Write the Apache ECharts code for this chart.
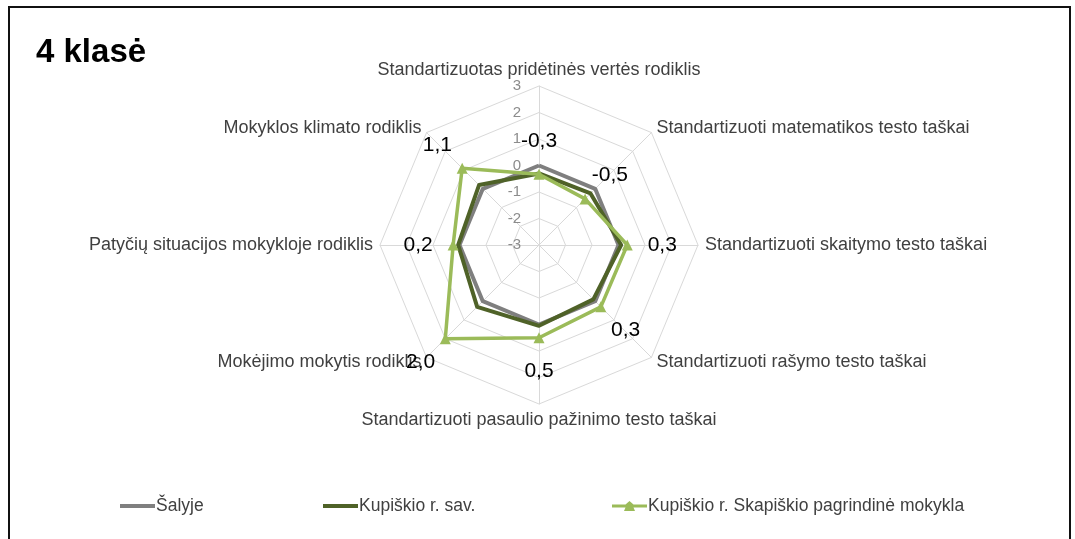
<!DOCTYPE html>
<html>
<head>
<meta charset="utf-8">
<script src="https://cdn.jsdelivr.net/npm/echarts@6/dist/echarts.min.js"></script>
<style>
  html, body { margin: 0; padding: 0; background: #fff; }
  #chart { position: absolute; left: 0; top: 0; width: 1075px; height: 539px; }
  #frame { position: absolute; left: 8px; top: 6px; width: 1059px; height: 560px;
           border: 2px solid #111; pointer-events: none; }
</style>
</head>
<body>
<div id="chart"></div>
<div id="frame"></div>
<script>
// rodikliai (ECharts radaras eina prieš laikrodžio rodyklę nuo viršaus)
var indicators = [
  "Standartizuotas pridėtinės vertės rodiklis",
  "Mokyklos klimato rodiklis",
  "Patyčių situacijos mokykloje rodiklis",
  "Mokėjimo mokytis rodiklis",
  "Standartizuoti pasaulio pažinimo testo taškai",
  "Standartizuoti rašymo testo taškai",
  "Standartizuoti skaitymo testo taškai",
  "Standartizuoti matematikos testo taškai"
];
var seriesNames = ["Šalyje", "Kupiškio r. sav.", "Kupiškio r. Skapiškio pagrindinė mokykla"];
var salyje = [0, 0, 0, 0, 0, 0, 0, 0];
var savivaldybe = [-0.3, 0.2, 0.05, 0.3, 0.05, -0.1, 0.1, -0.25];
var mokykla = [-0.33, 1.1, 0.24, 2.0, 0.5, 0.3, 0.33, -0.54];
var axisMin = -3, axisMax = 3;

var CX = 539, CY = 245;
var FONT = "'Liberation Sans', Arial, sans-serif";

var chart = echarts.init(document.getElementById("chart"));

var indicatorList = indicators.map(function (name, i) {
  var item = { name: name, min: axisMin, max: axisMax };
  // skaičiai tik ant viršutinės ašies
  item.axisLabel = { show: i === 0 };
  return item;
});

function fmt(v) {
  return v.toFixed(1).replace(".", ",");
}

var option = {
  backgroundColor: "#fff",
  animation: false,
  title: {
    text: "4 klasė",
    left: 31,
    top: 31,
    textStyle: { fontFamily: FONT, fontSize: 33, fontWeight: "bold", color: "#000" }
  },
  legend: [
    { data: [seriesNames[0]], left: 115, top: 492 },
    { data: [seriesNames[1]], left: 318, top: 492 },
    { data: [seriesNames[2]], left: 607, top: 492 }
  ].map(function (l, i) {
    l.itemWidth = 35;
    l.itemHeight = 10;
    l.itemGap = 1;
    l.textStyle = { fontFamily: FONT, fontSize: 17.5, color: "#404040", padding: [0, 0, 0, -4] };
    l.icon = i === 2
      ? "path://M0,3.5H13.5L17.5,0L21.5,3.5H35V6.5H21.5L23,10H12L13.5,6.5H0Z"
      : "path://M0,3H35V7H0Z";
    return l;
  }),
  radar: {
    center: [CX, CY],
    radius: 159,
    startAngle: 90,
    splitNumber: 6,
    shape: "polygon",
    indicator: indicatorList,
    axisName: {
      color: "#404040",
      fontFamily: FONT,
      fontSize: 18
    },
    nameGap: 7,
    splitLine: { lineStyle: { color: "#d9d9d9", width: 1 } },
    splitArea: { show: false },
    axisLine: { lineStyle: { color: "#d9d9d9", width: 1 } },
    axisTick: { show: false },
    axisLabel: {
      show: true,
      color: "#8c8c8c",
      fontFamily: FONT,
      fontSize: 15,
      margin: 18
    }
  },
  series: [
    {
      name: seriesNames[0],
      type: "radar",
      symbol: "none",
      itemStyle: { color: "#7f7f7f" },
      lineStyle: { color: "#7f7f7f", width: 4 },
      data: [{ name: seriesNames[0], value: salyje }]
    },
    {
      name: seriesNames[1],
      type: "radar",
      symbol: "none",
      itemStyle: { color: "#4f6228" },
      lineStyle: { color: "#4f6228", width: 4 },
      data: [{ name: seriesNames[1], value: savivaldybe }]
    },
    {
      name: seriesNames[2],
      type: "radar",
      symbol: "triangle",
      symbolSize: 11,
      itemStyle: { color: "#9bbb59" },
      lineStyle: { color: "#9bbb59", width: 3.5 },
      label: {
        show: true,
        position: "inside",
        color: "#000",
        fontFamily: FONT,
        fontSize: 21,
        formatter: function (p) { return fmt(p.value); }
      },
      // etiketes stumiam nuo centro i isore
      labelLayout: function (p) {
        var r = p.rect;
        var x = r.x + r.width / 2 - CX;
        var y = r.y + r.height / 2 - CY;
        var len = Math.sqrt(x * x + y * y) || 1;
        return { dx: x / len * 35, dy: y / len * 33 };
      },
      data: [{ name: seriesNames[2], value: mokykla }]
    }
  ]
};

chart.setOption(option);
</script>
</body>
</html>
